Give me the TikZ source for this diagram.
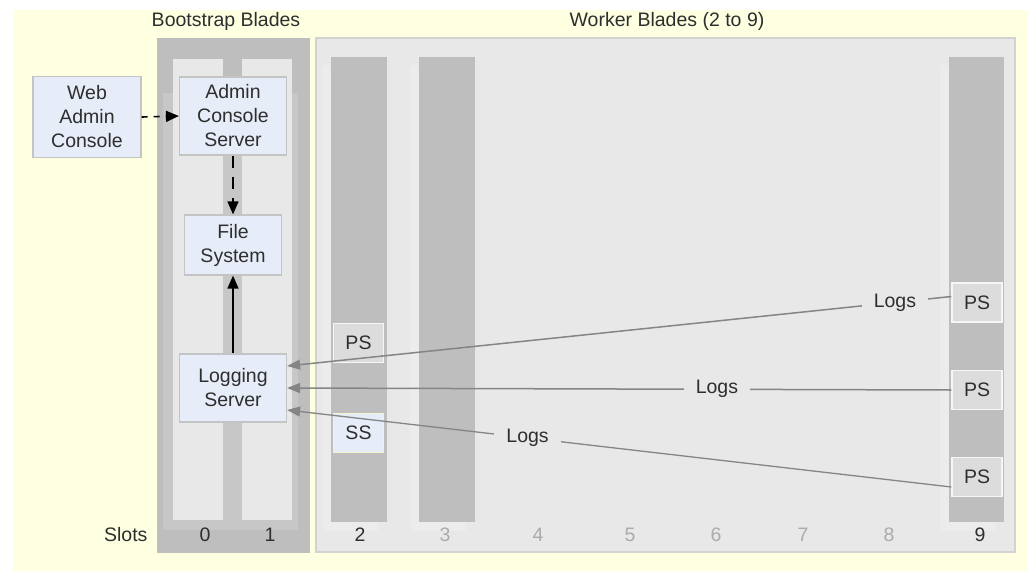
\documentclass[tikz,border=0pt]{standalone}
\usepackage{fontspec}
\setmainfont{Liberation Sans}
\usetikzlibrary{arrows.meta,calc}
\definecolor{bgy}{HTML}{FFFFE2}
\definecolor{dgray}{HTML}{BEBEBE}
\definecolor{mgray}{HTML}{C7C7C7}
\definecolor{lgray}{HTML}{E8E8E8}
\definecolor{sgray}{HTML}{ECECEC}
\definecolor{wborder}{HTML}{D2D2D2}
\definecolor{boxf}{HTML}{E6ECF8}
\definecolor{boxb}{HTML}{C4C4C4}
\definecolor{psf}{HTML}{DCDCDC}
\definecolor{psb}{HTML}{F6F6F6}
\definecolor{ssb}{HTML}{F4F4D2}
\definecolor{txt}{HTML}{2E2E2E}
\definecolor{faint}{HTML}{ABABAB}
\definecolor{logc}{HTML}{858585}
\tikzset{
  every node/.style={font=\fontsize{19.5}{24}\selectfont, text=txt},
  box/.style={draw=boxb, fill=boxf, line width=1.2pt, align=center, inner sep=0pt},
  psbox/.style={draw=psb, fill=psf, line width=1.2pt, inner sep=0pt, minimum width=50pt, minimum height=39pt},
  ssbox/.style={draw=ssb, fill=boxf, line width=1.2pt, inner sep=0pt, minimum width=50pt, minimum height=39pt},
  blk/.style={line width=1.6pt, black, -{Triangle[length=13pt,width=11pt]}},
  logline/.style={line width=1.5pt, logc, -{Triangle[length=13pt,width=10pt]}},
  lbl/.style={fill=lgray, inner xsep=12pt, inner ysep=3pt, text=txt},
  slotnum/.style={anchor=center}
}
\begin{document}
\begin{tikzpicture}[x=1pt,y=-1pt]
\useasboundingbox (0,0) rectangle (1028,571);
\fill[bgy] (13,10) rectangle (1028,571);

% titles
\node (tboot) at (226,21) {Bootstrap Blades};
\node (twork) at (667,21) {Worker Blades (2 to 9)};

% bootstrap blades
\fill[dgray] (157,38) rectangle (310,553);
\fill[mgray] (163,93) rectangle (298,530);
\fill[lgray] (173,59) rectangle (223,520);
\fill[lgray] (242,59) rectangle (292,520);

% worker blades
\filldraw[fill=lgray, draw=wborder, line width=1.2pt] (316,38) rectangle (1015,552);
\fill[sgray] (322,65) rectangle (378,531);
\fill[sgray] (410,65) rectangle (466,531);
\fill[sgray] (940,65) rectangle (996,531);
\fill[dgray] (331,57) rectangle (387,522);
\fill[dgray] (419,57) rectangle (475,522);
\fill[dgray] (949,57) rectangle (1004,522);

% slot labels
\node[anchor=east] (slots) at (151,535) {Slots};
\node (s0) at (205,535) {0};
\node (s1) at (270,535) {1};
\node (s2) at (360,535) {2};
\node[text=faint] (s3) at (445,535) {3};
\node[text=faint] (s4) at (538,535) {4};
\node[text=faint] (s5) at (630,535) {5};
\node[text=faint] (s6) at (716,535) {6};
\node[text=faint] (s7) at (803,535) {7};
\node[text=faint] (s8) at (889,535) {8};
\node (s9) at (980,535) {9};

% main boxes
\node[box, minimum width=108pt, minimum height=81pt] (web) at (87,117) {Web\\Admin\\Console};
\node[box, minimum width=107pt, minimum height=78pt] (acs) at (233,116) {Admin\\Console\\Server};
\node[box, minimum width=97pt, minimum height=60pt] (fs) at (233,245) {File\\System};
\node[box, minimum width=107pt, minimum height=68pt] (ls) at (233,388) {Logging\\Server};

% process boxes
\node[psbox] (ps2) at (358.5,343) {PS};
\node[ssbox] (ss2) at (358.5,433) {SS};
\node[psbox] (p9a) at (977,302.5) {PS};
\node[psbox] (p9b) at (977,390) {PS};
\node[psbox] (p9c) at (977,477) {PS};

% black arrows
\draw[blk, dash pattern=on 6pt off 6pt] (web.east) -- (acs.west);
\draw[blk, dash pattern=on 12pt off 9pt] (acs.south) -- (fs.north);
\draw[blk] (ls.north) -- (fs.south);

% log arrows
\coordinate (e1) at ($(ls.east)+(0,-22)$);
\coordinate (e3) at ($(ls.east)+(0,22)$);
\coordinate (b1) at ($(p9a.west)+(0,-6)$);
\coordinate (b3) at ($(p9c.west)+(0,10)$);
\draw[logline] (b1) -- node[lbl, pos=0.085] (l1) {Logs} (e1);
\draw[logline] (p9b.west) -- node[lbl, pos=0.353] (l2) {Logs} (ls.east);
\draw[logline, line width=1.3pt] (b3) -- node[lbl, pos=0.638] (l3) {Logs} (e3);
\end{tikzpicture}
\end{document}
